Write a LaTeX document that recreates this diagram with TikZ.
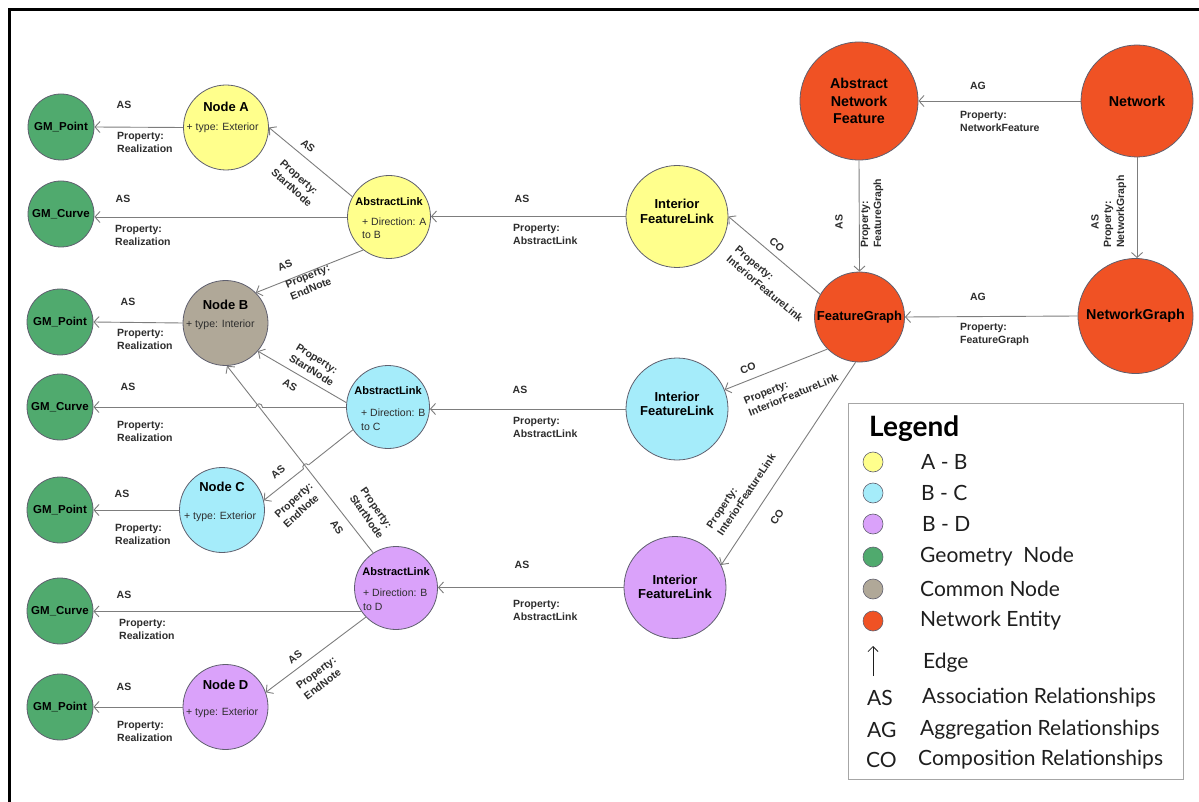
\documentclass[tikz,border=0pt]{standalone}
\usepackage{fontspec}
\setmainfont{Liberation Sans}
\newfontfamily\legfont{Lato}
\usetikzlibrary{arrows.meta,calc,intersections}
\definecolor{geoc}{RGB}{80,170,110}
\definecolor{yelc}{RGB}{255,255,140}
\definecolor{cyac}{RGB}{165,236,250}
\definecolor{purc}{RGB}{218,162,250}
\definecolor{gryc}{RGB}{176,168,152}
\definecolor{orac}{RGB}{240,82,36}
\definecolor{bordc}{RGB}{95,95,110}
\definecolor{edgec}{RGB}{125,125,125}
\definecolor{labc}{RGB}{45,45,45}
\definecolor{legc}{RGB}{30,30,30}
\begin{document}
\begin{tikzpicture}[x=1pt,y=1pt,
  ent/.style={circle,draw=bordc,line width=0.8pt,inner sep=0pt,text=black,align=center},
  geonode/.style={ent,fill=geoc,minimum size=66pt,font=\bfseries\fontsize{11.5}{13}\selectfont},
  plainnode/.style={ent,minimum size=85pt},
  alnode/.style={ent,minimum size=83pt},
  iflnode/.style={ent,minimum size=102pt},
  netnode/.style={ent,fill=orac,font=\bfseries\fontsize{14.3}{17.5}\selectfont},
  nodettl/.style={font=\bfseries\fontsize{13}{15}\selectfont,inner sep=0pt},
  typetxt/.style={font=\fontsize{10.5}{13.5}\selectfont,text=labc,inner sep=0pt,align=left,anchor=west},
  altitle/.style={font=\bfseries\fontsize{11}{13}\selectfont,inner sep=0pt},
  ifltxt/.style={font=\bfseries\fontsize{13}{14.5}\selectfont,inner sep=0pt,align=center},
  edge/.style={draw=edgec,line width=0.9pt,-{Straight Barb[length=5pt,width=11pt]}},
  lab/.style={font=\bfseries\fontsize{10.5}{13}\selectfont,text=labc,inner sep=0pt},
  plab/.style={lab,align=left},
  legtxt/.style={font=\legfont\fontsize{21}{24}\selectfont,text=legc,inner sep=0pt,anchor=west},
  legdot/.style={circle,draw=bordc,line width=0.6pt,minimum size=20pt,inner sep=0pt}
]
\useasboundingbox (0,0) rectangle (1199,-802);
\draw[black,line width=3pt] (9,-802) -- (9,-10) -- (1199,-10);

% geometry nodes
\node[geonode] (gp1) at (61,-127) {GM\_Point};
\node[geonode] (gc1) at (61,-214) {GM\_Curve};
\node[geonode] (gp2) at (60,-322) {GM\_Point};
\node[geonode] (gc2) at (60,-407) {GM\_Curve};
\node[geonode] (gp3) at (60,-510) {GM\_Point};
\node[geonode] (gc3) at (60,-611) {GM\_Curve};
\node[geonode] (gp4) at (60,-707) {GM\_Point};

% plain nodes
\node[plainnode,fill=yelc] (nodeA) at (226,-127.5) {};
\node[plainnode,fill=gryc] (nodeB) at (225.5,-323) {};
\node[plainnode,fill=cyac] (nodeC) at (222,-510) {};
\node[plainnode,fill=purc] (nodeD) at (225.5,-707) {};
\node[nodettl] (nodeAt) at (226,-107) {Node A};
\node[typetxt] (nodeAy) at (186.5,-128) {+ type: Exterior};
\node[nodettl] (nodeBt) at (225.5,-305) {Node B};
\node[typetxt] (nodeBy) at (186,-325) {+ type: Interior};
\node[nodettl] (nodeCt) at (222,-487) {Node C};
\node[typetxt] (nodeCy) at (184,-517) {+ type: Exterior};
\node[nodettl] (nodeDt) at (225.5,-685) {Node D};
\node[typetxt] (nodeDy) at (186,-713) {+ type: Exterior};

% abstract links
\node[alnode,fill=yelc] (alAB) at (389,-217) {};
\node[alnode,fill=cyac] (alBC) at (388,-407) {};
\node[alnode,fill=purc] (alBD) at (396,-588) {};
\node[altitle] (alABt) at (389,-202) {AbstractLink};
\node[typetxt] (alABy) at (362,-228) {+ Direction: A\\to B};
\node[altitle] (alBCt) at (388,-391) {AbstractLink};
\node[typetxt] (alBCy) at (361,-419.5) {+ Direction: B\\to C};
\node[altitle] (alBDt) at (396,-572) {AbstractLink};
\node[typetxt] (alBDy) at (363,-599.5) {+ Direction: B\\to D};

% interior feature links
\node[iflnode,fill=yelc] (ifl1) at (677,-216.5) {};
\node[iflnode,fill=cyac] (ifl2) at (677,-409) {};
\node[iflnode,fill=purc] (ifl3) at (675,-587.5) {};
\node[ifltxt] (ifl1t) at (677,-211.5) {Interior\\FeatureLink};
\node[ifltxt] (ifl2t) at (677,-404) {Interior\\FeatureLink};
\node[ifltxt] (ifl3t) at (675,-587) {Interior\\FeatureLink};

% network entities
\node[netnode,minimum size=118pt] (anf) at (859,-101) {Abstract\\Network\\Feature};
\node[netnode,minimum size=112pt] (net) at (1137,-101) {Network};
\node[netnode,minimum size=90pt,font=\bfseries\fontsize{13}{15}\selectfont] (fg) at (859.5,-317) {FeatureGraph};
\node[netnode,minimum size=115pt] (ng) at (1135.5,-316) {NetworkGraph};

% edges: left column
\draw[edge] (nodeA.west) -- (gp1.east);
\draw[edge] (alAB.west) -- (alAB.west -| gc1.east);
\draw[edge] (nodeB.west) -- (gp2.east);
\draw[edge] (nodeC.west) -- (gp3.east);
\draw[edge] (alBD.214) -- (alBD.214 -| gc3.east);
\draw[edge] (nodeD.west) -- (gp4.east);
\draw[edge] (alAB.151) -- (nodeA.east);
\draw[edge] (alAB.232) -- (nodeB.45);
\draw[edge] (alBC.174) -- (nodeB.319);
\draw[edge] (alBD.224) -- (nodeD.20);
\draw[edge,name path=e8] (alBC.west) -- (alBC.west -| gc2.east);
\draw[edge,name path=e9] (alBC.213) -- (nodeC.13);
\path[name path=e11] (alBD.123) -- (nodeB.272);
\path[name intersections={of=e8 and e11,by=xa}];
\path[name intersections={of=e9 and e11,by=xb}];
\draw[white,line width=2.6pt] ($(xa)+(-3.2,0)$) -- ($(xa)+(3.2,0)$);
\draw[edgec,line width=0.9pt] ($(xa)+(-3.2,0)$) arc[start angle=180,end angle=0,radius=3.2];
\draw[white,line width=2.6pt] ($(xb)+(219:3.2)$) -- ($(xb)+(39:3.2)$);
\draw[edgec,line width=0.9pt] ($(xb)+(219:3.2)$) arc[start angle=219,end angle=39,radius=3.2];
\draw[edge] (alBD.123) -- (nodeB.272);

% edges: middle
\draw[edge] (ifl1.west) -- (ifl1.west -| alAB.east);
\draw[edge] (ifl2.west) -- (ifl2.west -| alBC.east);
\draw[edge] (ifl3.west) -- (ifl3.west -| alBD.east);
\draw[edge] (fg.150) -- (ifl1.east);
\draw[edge] (fg.225) -- (ifl2.22);
\draw[edge] (fg.265) -- (ifl3.26);

% edges: right
\draw[edge] (net.west) -- (anf.east);
\draw[edge] (ng.west) -- (fg.east);
\draw[edge] (anf.south) -- (fg.north);
\draw[edge] (net.south) -- (net.south |- ng.north);

% labels horizontal
\node[lab] (l1a) at (124,-105) {AS};
\node[plab,anchor=west] (l1b) at (117,-142) {Property:\\Realization};
\node[lab] (l2a) at (123,-199) {AS};
\node[plab,anchor=west] (l2b) at (115,-235) {Property:\\Realization};
\node[lab] (l3a) at (128,-302) {AS};
\node[plab,anchor=west] (l3b) at (117,-339.5) {Property:\\Realization};
\node[lab] (l4a) at (128,-387) {AS};
\node[plab,anchor=west] (l4b) at (117,-431) {Property:\\Realization};
\node[lab] (l5a) at (122,-494) {AS};
\node[plab,anchor=west] (l5b) at (115,-534.5) {Property:\\Realization};
\node[lab] (l6a) at (124,-595) {AS};
\node[plab,anchor=west] (l6b) at (119,-629.5) {Property:\\Realization};
\node[lab] (l7a) at (124,-687) {AS};
\node[plab,anchor=west] (l7b) at (117,-731.5) {Property:\\Realization};
\node[lab] (m1a) at (522,-199) {AS};
\node[plab,anchor=west] (m1b) at (513,-234.5) {Property:\\AbstractLink};
\node[lab] (m2a) at (520,-390) {AS};
\node[plab,anchor=west] (m2b) at (513,-427.5) {Property:\\AbstractLink};
\node[lab] (m3a) at (522,-565) {AS};
\node[plab,anchor=west] (m3b) at (513,-610.5) {Property:\\AbstractLink};
\node[lab] (r1a) at (978,-86) {AG};
\node[plab,anchor=west] (r1b) at (960,-121) {Property:\\NetworkFeature};
\node[lab] (r2a) at (978,-297) {AG};
\node[plab,anchor=west] (r2b) at (960,-334.5) {Property:\\FeatureGraph};
\node[lab,rotate=90] (r3a) at (839,-222) {AS};
\node[plab,rotate=90,anchor=west] (r3b) at (872,-248) {Property:\\FeatureGraph};
\node[lab,rotate=90] (r4a) at (1095,-222) {AS};
\node[plab,rotate=90,anchor=west] (r4b) at (1115,-248) {Property:\\NetworkGraph};

% labels diagonal
\node[lab,rotate=-39] (d1a) at (308,-146) {AS};
\node[plab,rotate=-42] (d1b) at (296,-183) {Property:\\StartNode};
\node[lab,rotate=22] (d2a) at (285,-265) {AS};
\node[plab,rotate=22] (d2b) at (310,-282) {Property:\\EndNote};
\node[lab,rotate=-30] (d3a) at (290,-385) {AS};
\node[plab,rotate=-32] (d3b) at (315,-365) {Property:\\StartNode};
\node[lab,rotate=40] (d4a) at (278,-472) {AS};
\node[plab,rotate=42] (d4b) at (298,-505) {Property:\\EndNote};
\node[lab,rotate=-55] (d5a) at (337,-527) {AS};
\node[plab,rotate=-55] (d5b) at (372,-513) {Property:\\StartNode};
\node[lab,rotate=37] (d6a) at (295,-657) {AS};
\node[plab,rotate=37] (d6b) at (320,-678) {Property:\\EndNote};
\node[lab,rotate=-40] (c1a) at (777,-245) {CO};
\node[plab,rotate=-40] (c1b) at (769,-284) {Property:\\InteriorFeatureLink};
\node[lab,rotate=20] (c2a) at (748,-368) {CO};
\node[plab,rotate=22] (c2b) at (791,-389) {Property:\\InteriorFeatureLink};
\node[lab,rotate=56] (c3a) at (777,-517) {CO};
\node[plab,rotate=56] (c3b) at (741,-491) {Property:\\InteriorFeatureLink};

% legend
\node[draw=gray!70,line width=1pt,minimum width=335pt,minimum height=376pt,anchor=north west,inner sep=0pt] (legbox) at (848,-403) {};
\node[font=\legfont\bfseries\fontsize{28}{31}\selectfont,text=black,anchor=west,inner sep=0pt] (legt) at (869,-429) {Legend};
\node[legdot,fill=yelc] (ld1) at (873,-462) {};
\node[legdot,fill=cyac] (ld2) at (873,-493) {};
\node[legdot,fill=purc] (ld3) at (873,-524) {};
\node[legdot,fill=geoc] (ld4) at (873,-557) {};
\node[legdot,fill=gryc] (ld5) at (873,-589) {};
\node[legdot,fill=orac] (ld6) at (873,-621) {};
\node[legtxt] (lt1) at (921,-462) {A - B};
\node[legtxt] (lt2) at (921,-493) {B - C};
\node[legtxt] (lt3) at (922,-524) {B - D};
\node[legtxt] (lt4) at (920,-557) {Geometry\ \ Node};
\node[legtxt] (lt5) at (920,-589) {Common Node};
\node[legtxt] (lt6) at (920,-621) {Network Entity};
\coordinate (ea) at (873,-676);
\coordinate (eb) at (873,-646);
\draw[legc,line width=0.8pt,-{Straight Barb[length=5pt,width=10pt]}] (ea) -- (eb);
\node[legtxt] (lt7) at (923,-663) {Edge};
\node[legtxt] (lk1) at (867,-698) {AS};
\node[legtxt] (lt8) at (922,-698) {Association Relationships};
\node[legtxt] (lk2) at (867,-730) {AG};
\node[legtxt] (lt9) at (920,-730) {Aggregation Relationships};
\node[legtxt] (lk3) at (866,-760) {CO};
\node[legtxt] (lt10) at (918,-760) {Composition Relationships};
\end{tikzpicture}
\end{document}
